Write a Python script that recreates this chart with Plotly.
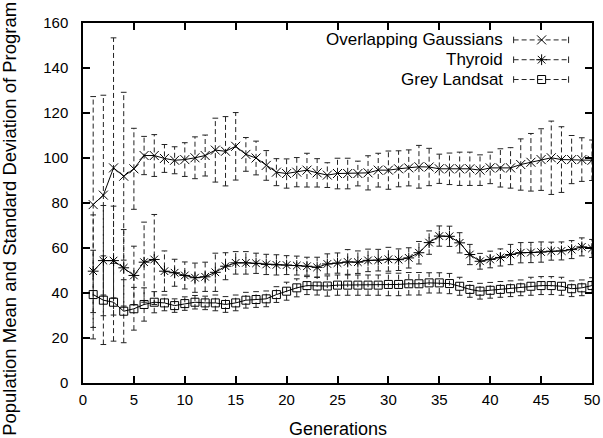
import plotly.graph_objects as go

generations = list(range(1, 51))

og_mean = [79.3, 83.5, 95.6, 91.9, 95.2, 101.1, 101.1, 99.8, 99.0, 99.3,
           100.1, 101.1, 103.5, 103.0, 105.2, 101.6, 100.0, 96.7, 93.7, 93.1,
           93.7, 94.6, 93.4, 92.4, 93.1, 93.1, 93.1, 93.4, 94.6, 94.6,
           95.2, 95.6, 96.1, 96.0, 95.2, 95.2, 95.2, 95.2, 94.6, 95.6,
           95.6, 95.6, 97.1, 98.1, 99.3, 100.1, 99.3, 99.3, 99.3, 99.0]
og_std = [48.0, 44.4, 57.8, 37.3, 18.0, 8.5, 9.3, 6.2, 6.0, 7.5,
          9.3, 9.1, 14.2, 15.4, 15.0, 7.5, 7.5, 6.6, 6.0, 6.5,
          6.5, 7.5, 6.3, 5.5, 6.8, 6.8, 5.5, 7.6, 7.5, 8.5,
          8.0, 8.0, 9.5, 8.3, 6.5, 7.0, 7.4, 7.4, 6.8, 7.0,
          8.5, 9.0, 11.4, 12.8, 13.7, 16.3, 14.6, 10.7, 9.7, 9.0]

thy_mean = [49.7, 54.4, 54.4, 51.2, 47.8, 53.7, 54.9, 49.7, 49.0, 47.8,
            46.8, 47.2, 49.2, 51.9, 53.4, 53.4, 53.2, 52.7, 52.5, 52.4,
            52.2, 51.9, 51.4, 52.9, 53.3, 53.8, 53.7, 54.5, 54.6, 55.0,
            54.8, 55.6, 57.9, 62.4, 65.3, 65.2, 62.3, 57.1, 54.1, 54.9,
            55.8, 57.1, 57.9, 58.0, 58.2, 58.6, 58.7, 59.3, 60.5, 59.8]
thy_std = [25.0, 24.5, 24.2, 17.0, 13.0, 17.8, 20.0, 9.0, 6.0, 6.0,
           6.5, 6.5, 8.5, 6.0, 5.0, 5.0, 4.5, 4.5, 4.5, 4.2,
           4.2, 4.0, 4.5, 4.5, 4.5, 5.5, 5.0, 5.0, 4.8, 5.3,
           4.8, 4.5, 5.0, 5.2, 4.5, 4.5, 4.5, 4.5, 3.5, 3.7,
           3.8, 4.5, 4.5, 4.5, 4.5, 4.0, 4.0, 4.0, 4.0, 4.0]

gl_mean = [39.3, 36.8, 35.9, 31.9, 33.0, 34.9, 35.9, 35.6, 34.4, 35.3,
           35.9, 35.6, 35.6, 34.9, 35.6, 36.8, 37.1, 37.4, 39.3, 40.8,
           42.3, 43.3, 43.1, 43.1, 43.5, 43.5, 43.5, 43.5, 43.5, 43.8,
           43.8, 44.1, 44.1, 44.5, 44.5, 44.2, 43.0, 41.6, 40.8, 41.2,
           41.6, 41.9, 42.3, 43.0, 43.3, 43.3, 43.0, 41.9, 42.3, 43.3]
gl_std = [19.7, 19.7, 17.3, 14.0, 9.5, 7.4, 4.7, 3.5, 3.0, 3.0,
          3.0, 3.0, 3.5, 3.5, 3.5, 3.5, 3.5, 3.5, 3.5, 4.0,
          4.0, 4.0, 4.0, 4.5, 4.5, 4.5, 4.5, 4.5, 4.5, 5.0,
          5.0, 5.0, 5.0, 4.5, 4.5, 4.5, 4.0, 3.5, 3.5, 3.5,
          3.5, 3.5, 3.5, 4.0, 4.0, 4.0, 4.0, 3.5, 3.5, 3.5]

series_names = ["Overlapping Gaussians", "Thyroid", "Grey Landsat"]
series = [
    (series_names[0], og_mean, og_std, "x-thin-open", 9),
    (series_names[1], thy_mean, thy_std, "asterisk-open", 9),
    (series_names[2], gl_mean, gl_std, "square-open", 8),
]

FONT = "Liberation Sans, Arial, Helvetica, sans-serif"
CAP = 0.28  # half width of error-bar caps, in generations
DASH = "5px,3px"

fig = go.Figure()

for name, mean, std, sym, size in series:
    bx, by, cx, cy = [], [], [], []
    for g, m, s in zip(generations, mean, std):
        bx += [g, g, None]
        by += [m - s, m + s, None]
        for yv in (m - s, m + s):
            cx += [g - CAP, g + CAP, None]
            cy += [yv, yv, None]
    fig.add_trace(go.Scatter(x=bx, y=by, mode="lines", showlegend=False,
                             line=dict(color="#222", width=1, dash=DASH),
                             hoverinfo="skip"))
    fig.add_trace(go.Scatter(x=cx, y=cy, mode="lines", showlegend=False,
                             line=dict(color="#222", width=1),
                             hoverinfo="skip"))

for name, mean, std, sym, size in series:
    fig.add_trace(go.Scatter(x=generations, y=mean, mode="lines+markers",
                             name=name, showlegend=False,
                             line=dict(color="black", width=1),
                             marker=dict(symbol=sym, size=size, color="black",
                                         line=dict(color="black", width=1))))

# custom gnuplot-style key (text right, sample on the right) on an overlay axis
key_rows = [0.953, 0.898, 0.843]
key_text_x = 0.827
key_x0, key_x1, key_xm = 0.846, 0.954, 0.901
key_cap = 0.009
for (name, mean, std, sym, size), ky in zip(series, key_rows):
    fig.add_trace(go.Scatter(x=[key_x0, key_x1], y=[ky, ky], mode="lines",
                             xaxis="x2", yaxis="y2", showlegend=False,
                             line=dict(color="#222", width=1, dash=DASH),
                             hoverinfo="skip"))
    fig.add_trace(go.Scatter(x=[key_x0, key_x0, None, key_x1, key_x1],
                             y=[ky - key_cap, ky + key_cap, None, ky - key_cap, ky + key_cap],
                             mode="lines", xaxis="x2", yaxis="y2", showlegend=False,
                             line=dict(color="#222", width=1), hoverinfo="skip"))
    fig.add_trace(go.Scatter(x=[key_xm], y=[ky], mode="markers",
                             xaxis="x2", yaxis="y2", showlegend=False,
                             marker=dict(symbol=sym, size=size, color="black",
                                         line=dict(color="black", width=1)),
                             hoverinfo="skip"))
    fig.add_annotation(text=name, xref="paper", yref="paper", x=key_text_x, y=ky,
                       xanchor="right", yanchor="middle", showarrow=False,
                       borderpad=0,
                       font=dict(family=FONT, size=17, color="black"))

axis_common = dict(showline=True, linecolor="black", linewidth=1.5, mirror="allticks",
                   ticks="inside", ticklen=7, tickwidth=1.5, tickcolor="black",
                   showgrid=False, zeroline=False, automargin=False,
                   tickfont=dict(family=FONT, size=15, color="black"))

fig.update_layout(
    width=603, height=438,
    margin=dict(l=83, r=11, t=23, b=55, autoexpand=False),
    paper_bgcolor="white", plot_bgcolor="white",
    showlegend=False,
    xaxis=dict(range=[0, 50], tick0=0, dtick=5, ticklabelstandoff=2, **axis_common),
    yaxis=dict(range=[0, 160], tick0=0, dtick=20, ticklabelstandoff=10, **axis_common),
    xaxis2=dict(range=[0, 1], overlaying="x", anchor="y2", visible=False),
    yaxis2=dict(range=[0, 1], overlaying="y", anchor="x2", visible=False),
)

fig.add_annotation(text="Generations", xref="paper", yref="paper", x=0.5, y=0,
                   yshift=-46, xanchor="center", yanchor="middle", showarrow=False,
                   font=dict(family=FONT, size=18, color="black"))
fig.add_annotation(text="Population Mean and Standard Deviation of Program",
                   xref="paper", yref="paper", x=0, xshift=-73,
                   y=0.456, xanchor="center", yanchor="middle", textangle=-90,
                   showarrow=False, font=dict(family=FONT, size=18.5, color="black"))

fig.write_html("out.html")
